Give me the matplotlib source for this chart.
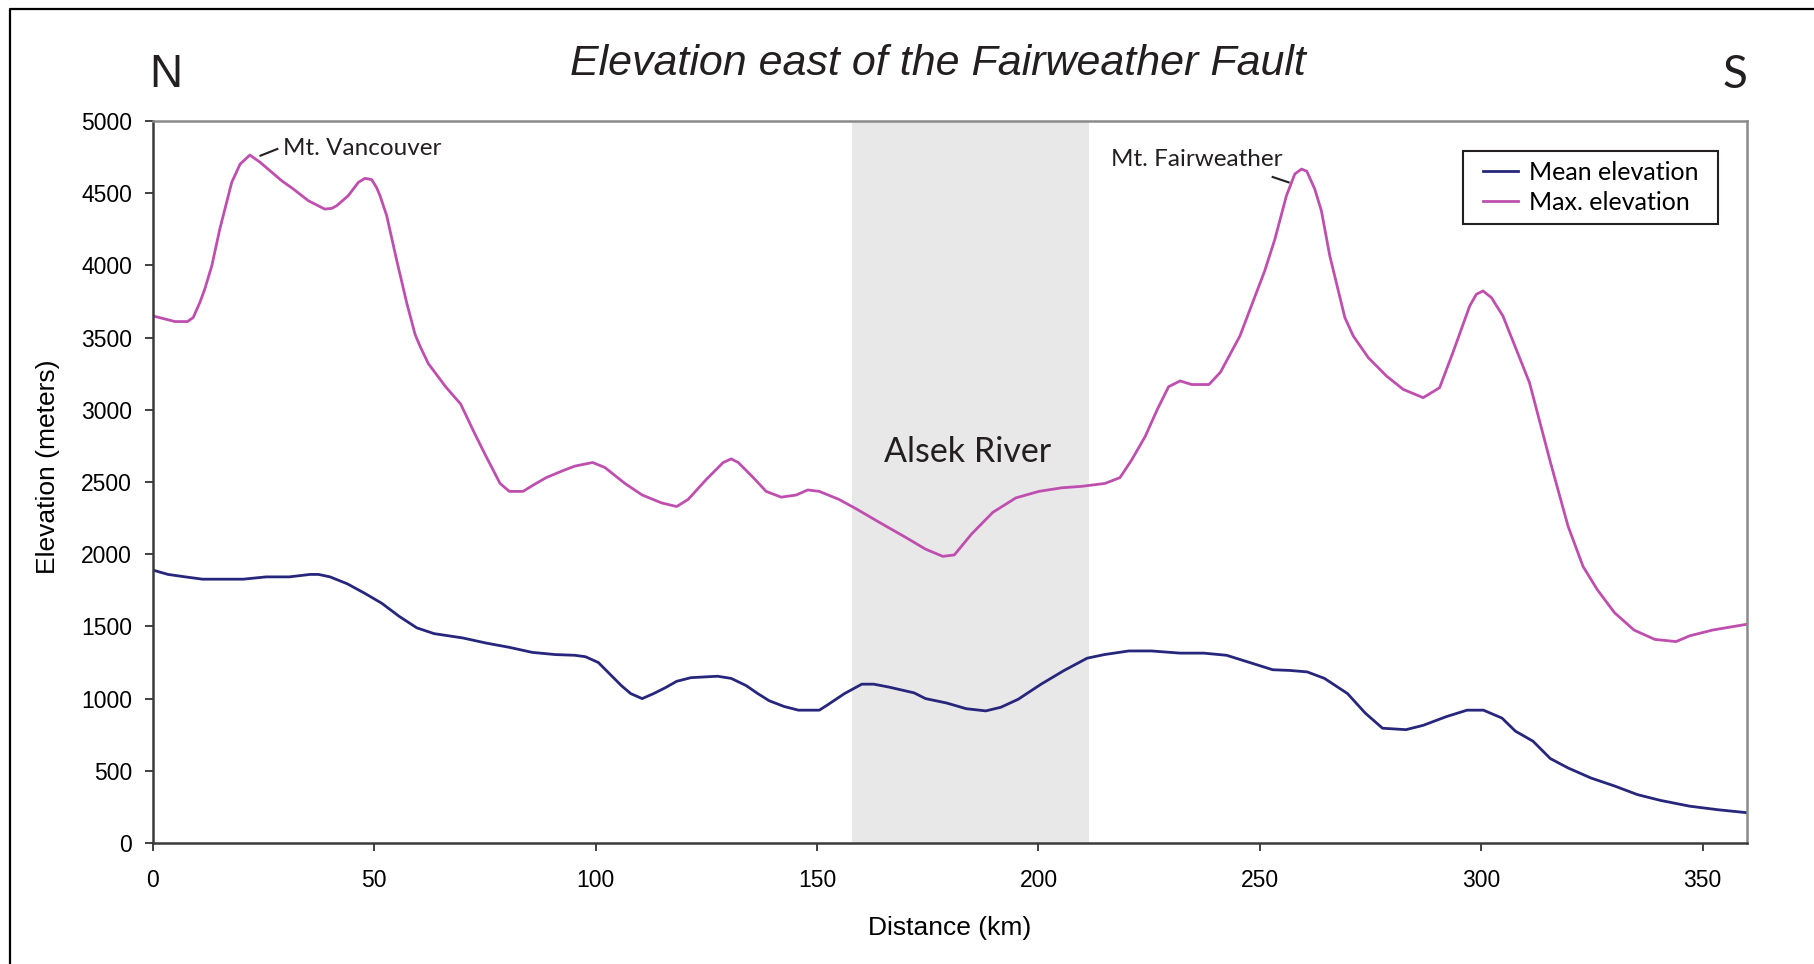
import matplotlib.pyplot as plt
from matplotlib.lines import Line2D
from matplotlib.patches import Rectangle

plt.rcParams['font.family'] = ['Liberation Sans', 'DejaVu Sans']

# profile along the fault (km, m)
max_km = [0, 5, 7.8, 9.1, 10.6, 11.7, 13.3, 15.1, 17.8, 19.7, 21.9, 24.2, 29.1, 31.7,
          35.1, 38.8, 40.4, 41.5, 44.1, 46.4, 47.9, 49.4, 50.5, 51.3, 52.8, 55, 57.3,
          59.2, 60.3, 62.2, 66.1, 69.5, 72.6, 75.2, 78.4, 80.5, 83.6, 85.7, 88.8, 92.7,
          95.3, 99.3, 102.1, 106.6, 110.5, 114.9, 118.3, 120.9, 124.9, 128.8, 130.6,
          132.2, 135.3, 138.5, 141.9, 145.3, 147.9, 150.5, 154.9, 158.8, 164.1, 170.1,
          174.5, 178.4, 181, 184.9, 189.7, 194.9, 200.1, 205.3, 209.8, 215, 218.4, 221,
          224.1, 226.8, 229.4, 232, 234.6, 238.5, 241.1, 245.5, 251.1, 253.4, 256,
          257.9, 259.4, 260.6, 262.4, 263.9, 265.8, 269.2, 271.1, 274.5, 278.6, 282.4,
          286.9, 290.6, 293.6, 297.4, 298.9, 300.4, 302.3, 304.9, 307.9, 310.9, 315.6,
          319.6, 323, 326.2, 330.1, 334.5, 339.2, 344, 347.1, 352.3, 360]
max_elev = [3650, 3611, 3611, 3639, 3743, 3835, 3997, 4251, 4575, 4702, 4764, 4714, 4586,
            4529, 4448, 4390, 4395, 4413, 4482, 4575, 4603, 4594, 4540, 4482, 4344, 4043,
            3743, 3523, 3442, 3320, 3160, 3040, 2840, 2680, 2490, 2435, 2435, 2475, 2530,
            2580, 2610, 2635, 2600, 2490, 2410, 2355, 2330, 2380, 2515, 2635, 2660, 2635,
            2540, 2435, 2395, 2410, 2445, 2435, 2380, 2315, 2220, 2115, 2035, 1985, 1995,
            2140, 2290, 2390, 2435, 2460, 2470, 2490, 2530, 2650, 2815, 3000, 3160, 3200,
            3175, 3175, 3260, 3511, 3962, 4182, 4482, 4633, 4667, 4652, 4529, 4378, 4066,
            3639, 3511, 3361, 3234, 3141, 3084, 3153, 3396, 3719, 3800, 3823, 3777, 3650,
            3419, 3188, 2640, 2195, 1915, 1755, 1595, 1475, 1410, 1395, 1435, 1475, 1515]

mean_km = [0, 3.4, 7.3, 11.2, 20.4, 25.6, 30.8, 35.5, 37.4, 40, 43.9, 47.8, 51.7, 55.6,
           59.6, 63.5, 70, 75.2, 80.5, 85.7, 90.9, 95.3, 97.7, 100.6, 103.2, 105.8, 107.9,
           110.5, 113.1, 115.7, 118.3, 121.5, 127.5, 130.6, 134, 136.6, 139.2, 142.6,
           145.8, 150.5, 152.3, 156.2, 160.1, 162.8, 166.2, 171.9, 174.5, 179.2, 183.7,
           188.1, 191.5, 195.4, 200.6, 205.8, 211, 214.9, 220.4, 225.5, 232, 237.3, 242.5,
           247.7, 252.9, 256.8, 260.7, 264.6, 269.8, 273.8, 277.7, 283, 286.9, 292.1,
           296.8, 300.5, 304.7, 307.7, 311.7, 315.6, 319.6, 324.8, 330.1, 335.3, 340.5,
           347.1, 353.6, 360]
mean_elev = [1890, 1860, 1843, 1827, 1827, 1843, 1843, 1860, 1860, 1843, 1795, 1730, 1660,
             1570, 1490, 1450, 1420, 1385, 1355, 1320, 1305, 1300, 1290, 1250, 1170, 1090,
             1035, 1000, 1035, 1075, 1120, 1145, 1155, 1140, 1090, 1035, 985, 945, 920, 920,
             955, 1035, 1100, 1100, 1080, 1040, 1000, 970, 930, 915, 940, 995, 1100, 1195,
             1280, 1305, 1330, 1330, 1315, 1315, 1300, 1250, 1200, 1195, 1185, 1140, 1035,
             900, 795, 785, 815, 875, 920, 920, 865, 775, 705, 585, 520, 450, 395, 335, 295,
             255, 230, 210]

river_start, river_end = 158, 211.5
x_ticks = list(range(0, 351, 50))
y_ticks = list(range(0, 5001, 500))

sans = ['Lato', 'DejaVu Sans']
ink = '#231f20'

fig = plt.figure(figsize=(18.14, 9.64), dpi=100)
ax = fig.add_axes([0.0843, 0.1255, 0.8787, 0.749])

# Alsek River band
ax.axvspan(river_start, river_end, color='#e8e8e8', lw=0, zorder=0)
ax.text(184.1, 2705, 'Alsek River', fontsize=24.5, family=sans, color=ink,
        ha='center', va='center')

ax.plot(mean_km, mean_elev, color='#26267c', lw=2.0, label='Mean elevation')
ax.plot(max_km, max_elev, color='#bf4fae', lw=2.0, label='Max. elevation')

# peak labels
ax.plot([24.3, 28.1], [4760, 4806], color=ink, lw=1.5)
ax.text(29.4, 4806, 'Mt. Vancouver', fontsize=17.5, family=sans, color=ink,
        ha='left', va='center')
ax.plot([252.9, 256.5], [4612, 4575], color=ink, lw=1.5)
ax.text(255.2, 4730, 'Mt. Fairweather', fontsize=17.5, family=sans, color=ink,
        ha='right', va='center')

ax.set_xlim(0, 360)
ax.set_ylim(0, 5000)
ax.set_xticks(x_ticks)
ax.set_yticks(y_ticks)
ax.tick_params(axis='both', labelsize=16.5, length=6, width=1.3, color='#333333')
ax.tick_params(axis='x', pad=13)
ax.tick_params(axis='y', pad=9)

for s in ['left', 'bottom']:
    ax.spines[s].set_color('#3a3a3a')
    ax.spines[s].set_linewidth(1.8)
for s in ['top', 'right']:
    ax.spines[s].set_color('#8a8a8a')
    ax.spines[s].set_linewidth(1.8)

# legend box drawn separately so the padding can match the original
ax.add_patch(Rectangle((0.822, 0.857), 0.160, 0.101, transform=ax.transAxes,
                       facecolor='white', edgecolor=ink, lw=1.5, zorder=4))
leg = ax.legend(loc='upper left', bbox_to_anchor=(0.8344, 0.945), borderaxespad=0,
                frameon=False, prop={'family': sans, 'size': 18},
                handlelength=1.4, handletextpad=0.45, labelspacing=0.3,
                borderpad=0)
leg.set_zorder(5)

fig.text(0.5168, 0.934, 'Elevation east of the Fairweather Fault', fontsize=31,
         style='italic', ha='center', va='center', color=ink)
fig.text(0.0915, 0.9227, 'N', fontsize=33, ha='center', va='center', color=ink)
fig.text(0.9562, 0.9227, 'S', fontsize=33, family=sans, ha='center', va='center',
         color=ink)
fig.text(0.0265, 0.5155, 'Elevation (meters)', fontsize=19, rotation=90,
         ha='center', va='center')
fig.text(0.5237, 0.0373, 'Distance (km)', fontsize=19, ha='center', va='center')

# outer frame, clipped at the right and bottom edges like the source
fig.add_artist(Line2D([10 / 1814, 10 / 1814, 1.0], [0.0, 1 - 9 / 964, 1 - 9 / 964],
                      transform=fig.transFigure, color='black', lw=1.6))

fig.savefig('out.png', dpi=100)
